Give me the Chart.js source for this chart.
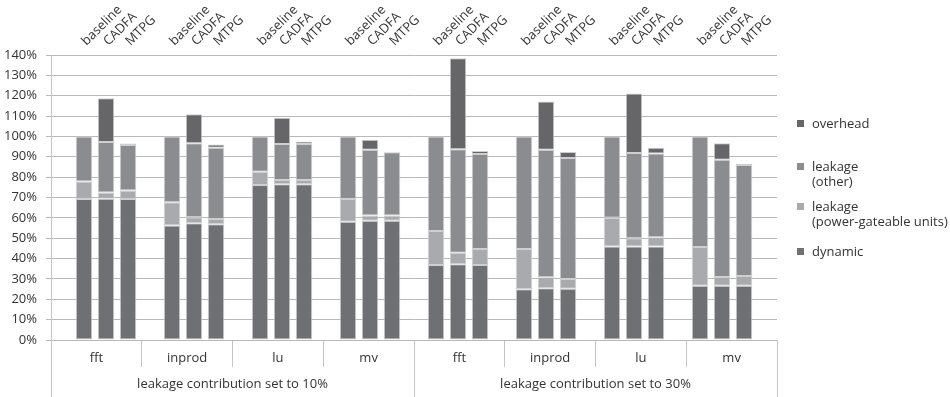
<!DOCTYPE html>
<html lang="en">
<head>
    <meta charset="UTF-8">
    <title>Energy breakdown</title>
    <script src="https://cdn.jsdelivr.net/npm/chart.js"></script>
    <style>
        body {
            margin: 0;
            background: #fff;
            font-family: "Open Sans", sans-serif;
        }

        .wrap {
            position: relative;
            width: 950px;
            height: 397px;
        }

        /* legend is plain html, the labels wrap on two lines */
        .legend-item {
            position: absolute;
            left: 797px;
            font-size: 13px;
            line-height: 15px;
            color: #333;
        }

        .legend-item .box {
            position: absolute;
            left: 0;
            top: 4px;
            width: 7px;
            height: 7px;
        }

        .legend-item .txt {
            margin-left: 15px;
            white-space: nowrap;
        }
    </style>
</head>
<body>
    <div class="wrap">
        <canvas id="myChart" width="950" height="397"></canvas>
        <div class="legend-item" style="top:116px"><span class="box" style="background:#666668"></span>
            <div class="txt">overhead</div></div>
        <div class="legend-item" style="top:159px"><span class="box" style="background:#8b8c8f"></span>
            <div class="txt">leakage<br>(other)</div></div>
        <div class="legend-item" style="top:199px"><span class="box" style="background:#a9aaad"></span>
            <div class="txt">leakage<br>(power-gateable units)</div></div>
        <div class="legend-item" style="top:244px"><span class="box" style="background:#6f7074"></span>
            <div class="txt">dynamic</div></div>
    </div>

    <script>
        // categories
        const benchmarks = ['fft', 'inprod', 'lu', 'mv', 'fft', 'inprod', 'lu', 'mv'];
        const settings = ['leakage contribution set to 10%', 'leakage contribution set to 30%'];
        const configs = ['baseline', 'CADFA', 'MTPG'];

        // % of baseline energy, 3 values (baseline, CADFA, MTPG) per benchmark
        const dynamic = [
            69.3, 69.4, 69.3, 56.2, 57.3, 56.8, 76.2, 76.5, 76.5, 58.1, 58.6, 58.6,
            36.9, 37.2, 36.9, 24.9, 25.4, 25.2, 45.9, 45.9, 45.9, 26.7, 26.7, 26.7
        ];
        const leakagePG = [
            8.5, 3.0, 4.1, 11.5, 3.0, 2.7, 6.5, 2.1, 2.1, 11.2, 2.5, 2.5,
            16.7, 5.6, 7.8, 19.8, 5.4, 4.8, 14.2, 4.1, 4.6, 19.0, 4.3, 4.7
        ];
        const leakageOther = [
            22.2, 24.9, 22.4, 32.3, 36.3, 35.0, 17.3, 17.7, 17.7, 30.7, 32.3, 31.1,
            46.4, 50.9, 46.7, 55.3, 62.6, 59.4, 39.9, 41.9, 41.1, 54.3, 57.5, 54.6
        ];
        const overhead = [
            0, 21.5, 0.7, 0, 14.3, 1.5, 0, 12.9, 1.2, 0, 5.0, 0.3,
            0, 44.7, 1.5, 0, 23.7, 3.0, 0, 29.2, 2.9, 0, 8.1, 0.6
        ];

        const yTicks = [0, 10, 20, 30, 40, 50, 60, 70, 80, 90, 100, 110, 120, 130, 140];

        // one empty slot before every group of 3 bars, and one at the end
        function withGaps(arr, gap) {
            const out = [];
            for (let g = 0; g < benchmarks.length; g++) {
                out.push(gap);
                for (let i = 0; i < configs.length; i++) out.push(arr[g * configs.length + i]);
            }
            out.push(gap);
            return out;
        }

        const slotLabels = withGaps(benchmarks.flatMap(() => configs), '');
        const textColor = '#333';
        const gridColor = '#b8b8b8';
        const font = { family: 'Open Sans', size: 13 };

        function ds(label, data, color) {
            return {
                label: label,
                data: withGaps(data, null),
                backgroundColor: color,
                borderColor: '#cfcfcf',
                borderWidth: 1,
                borderSkipped: false,
                xAxisID: 'xTop',
                barPercentage: 0.75,
                categoryPercentage: 1.0
            };
        }

        new Chart(document.getElementById('myChart').getContext('2d'), {
            type: 'bar',
            data: {
                labels: slotLabels,
                datasets: [
                    ds('dynamic', dynamic, '#6f7074'),
                    ds('leakage (power-gateable units)', leakagePG, '#a9aaad'),
                    ds('leakage (other)', leakageOther, '#8b8c8f'),
                    ds('overhead', overhead, '#666668')
                ]
            },
            options: {
                responsive: false,
                animation: false,
                layout: { padding: { left: 4, right: 173, top: 0, bottom: 0 } },
                plugins: {
                    legend: { display: false },
                    tooltip: { enabled: false }
                },
                scales: {
                    xTop: {
                        type: 'category',
                        position: 'top',
                        stacked: true,
                        offset: true,
                        grid: { display: false },
                        border: { display: false },
                        ticks: {
                            autoSkip: false,
                            minRotation: 45,
                            maxRotation: 45,
                            padding: -2,
                            labelOffset: 11,
                            color: textColor,
                            font: { family: 'Open Sans', size: 13 }
                        },
                        afterFit: function (scale) { scale.height = 55; }
                    },
                    xBench: {
                        type: 'category',
                        position: 'bottom',
                        weight: 1,
                        labels: benchmarks,
                        offset: true,
                        grid: { offset: true, drawOnChartArea: false, tickLength: 27, color: '#c4c4c4' },
                        border: { display: false },
                        ticks: { padding: -17, color: textColor, font: font, autoSkip: false, maxRotation: 0 },
                        afterFit: function (scale) { scale.height = 27; }
                    },
                    xSet: {
                        type: 'category',
                        position: 'bottom',
                        weight: 2,
                        labels: settings,
                        offset: true,
                        grid: { offset: true, drawOnChartArea: false, tickLength: 30, color: '#c4c4c4' },
                        border: { display: false },
                        ticks: { padding: -21, color: textColor, font: font, autoSkip: false, maxRotation: 0 },
                        afterFit: function (scale) { scale.height = 30; }
                    },
                    y: {
                        stacked: true,
                        min: yTicks[0],
                        max: yTicks[yTicks.length - 1],
                        afterBuildTicks: function (scale) {
                            scale.ticks = yTicks.map(v => ({ value: v }));
                        },
                        grid: { color: gridColor, tickLength: 5 },
                        border: { display: true, color: '#c4c4c4' },
                        ticks: {
                            padding: 9,
                            color: textColor,
                            font: font,
                            callback: v => v + '%'
                        },
                        afterFit: function (scale) { scale.width = 47; }
                    }
                }
            }
        });
    </script>
</body>
</html>
